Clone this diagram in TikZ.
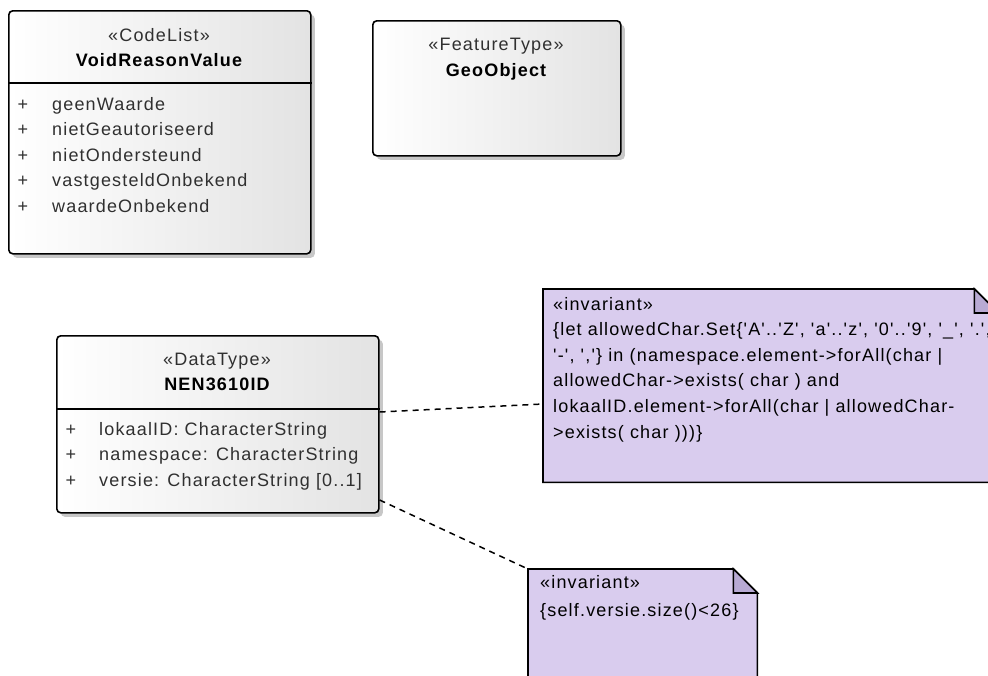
\documentclass[tikz,border=0pt]{standalone}
\usepackage{fontspec}
\setmainfont{Liberation Sans}[Ligatures=TeXOff,LetterSpace=6.5]
\usetikzlibrary{shadows}
\definecolor{notefill}{RGB}{217,204,238}
\definecolor{foldfill}{RGB}{184,170,212}
\definecolor{attrtext}{RGB}{48,48,48}
\begin{document}
\begin{tikzpicture}[x=1pt,y=-1pt,
  font=\fontsize{18}{25.5}\selectfont,
  classbox/.style={draw=black, line width=1.6pt, rounded corners=4pt,
    left color=white, right color=black!11, anchor=north west, inner sep=0pt,
    drop shadow={shadow xshift=4pt, shadow yshift=-4pt, fill=black!22, opacity=1}},
  divider/.style={line width=1.4pt},
  stereo/.style={anchor=base, inner sep=0pt, text=attrtext},
  cname/.style={anchor=base, inner sep=0pt, font=\fontsize{18}{22}\selectfont\bfseries},
  plus/.style={anchor=base, inner sep=0pt, text=attrtext},
  attr/.style={anchor=base west, inner sep=0pt, text=attrtext},
  notebox/.style={anchor=north west, inner sep=0pt, draw=none},
  noteline/.style={draw=black, line width=1.6pt, fill=notefill},
  foldline/.style={draw=black, line width=1.6pt, fill=foldfill},
  notetext/.style={anchor=base west, inner sep=0pt, text=black},
  conn/.style={draw=black, line width=1.5pt, dash pattern=on 6pt off 5pt}
]
\useasboundingbox (0,0) rectangle (988,675);
\clip (0,0) rectangle (988,675);

% VoidReasonValue
\node[classbox, minimum width=302pt, minimum height=243pt] (vrv) at (8,10) {};
\draw[divider] (vrv.west |- 0,83) -- (vrv.east |- 0,83);
\node[stereo] (vrvst) at (159,41.5) {«CodeList»};
\node[cname] (vrvnm) at (159,66.5) {VoidReasonValue};
\node[plus] (vp1) at (23,110) {+};
\node[plus] (vp2) at (23,135.5) {+};
\node[plus] (vp3) at (23,161) {+};
\node[plus] (vp4) at (23,186.5) {+};
\node[plus] (vp5) at (23,212) {+};
\node[attr] (va1) at (52,110) {geenWaarde};
\node[attr] (va2) at (52,135.5) {nietGeautoriseerd};
\node[attr] (va3) at (52,161) {nietOndersteund};
\node[attr] (va4) at (52,186.5) {vastgesteldOnbekend};
\node[attr] (va5) at (52,212) {waardeOnbekend};

% GeoObject
\node[classbox, minimum width=248pt, minimum height=135pt] (geo) at (372,20) {};
\node[stereo] (geost) at (496,50) {«FeatureType»};
\node[cname] (geonm) at (496,76) {GeoObject};

% NEN3610ID
\node[classbox, minimum width=322pt, minimum height=177pt] (nen) at (56,335) {};
\draw[divider] (nen.west |- 0,409) -- (nen.east |- 0,409);
\node[stereo] (nenst) at (217,365.5) {«DataType»};
\node[cname] (nennm) at (217,390.5) {NEN3610ID};
\node[plus] (np1) at (71,435) {+};
\node[plus] (np2) at (71,460.5) {+};
\node[plus] (np3) at (71,486) {+};
\node[attr] (na1) at (99,435) {lokaalID: CharacterString};
\node[attr] (na2) at (99,460.5) {namespace: CharacterString};
\node[attr] (na3) at (99,486) {versie: CharacterString [0..1]};

% notes (frames)
\node[notebox, minimum width=455pt, minimum height=193pt] (inv1) at (543,289) {};
\node[notebox, minimum width=229pt, minimum height=130pt] (inv2) at (528,569) {};

% connectors
\draw[conn] (nen.east |- 0,412) -- (inv1.west |- 0,404);
\draw[conn] (nen.east |- 0,500) -- (inv2.north west);

% note 1 outline
\draw[noteline] (inv1.north west) -- ([xshift=-24pt]inv1.north east)
  -- ([yshift=-24pt]inv1.north east) -- (inv1.south east) -- (inv1.south west) -- cycle;
\draw[foldline] ([xshift=-24pt]inv1.north east) -- ([xshift=-24pt,yshift=-24pt]inv1.north east)
  -- ([yshift=-24pt]inv1.north east) -- cycle;
\node[notetext] (inv1a) at (553,310) {«invariant»};
\node[notetext] (inv1b) at (553,335.6) {\{let allowedChar.Set\{'A'..'Z', 'a'..'z', '0'..'9', '\_', '.',};
\node[notetext] (inv1c) at (553,361.2) {'-', ','\} in (namespace.element->forAll(char |};
\node[notetext] (inv1d) at (553,386.8) {allowedChar->exists( char ) and};
\node[notetext] (inv1e) at (553,412.4) {lokaalID.element->forAll(char | allowedChar-};
\node[notetext] (inv1f) at (553,438) {>exists( char )))\}};

% note 2 outline
\draw[noteline] (inv2.north west) -- ([xshift=-24pt]inv2.north east)
  -- ([yshift=-24pt]inv2.north east) -- (inv2.south east) -- (inv2.south west) -- cycle;
\draw[foldline] ([xshift=-24pt]inv2.north east) -- ([xshift=-24pt,yshift=-24pt]inv2.north east)
  -- ([yshift=-24pt]inv2.north east) -- cycle;
\node[notetext] (inv2a) at (540,588) {«invariant»};
\node[notetext] (inv2b) at (540,616.5) {\{self.versie.size()<26\}};
\end{tikzpicture}
\end{document}
